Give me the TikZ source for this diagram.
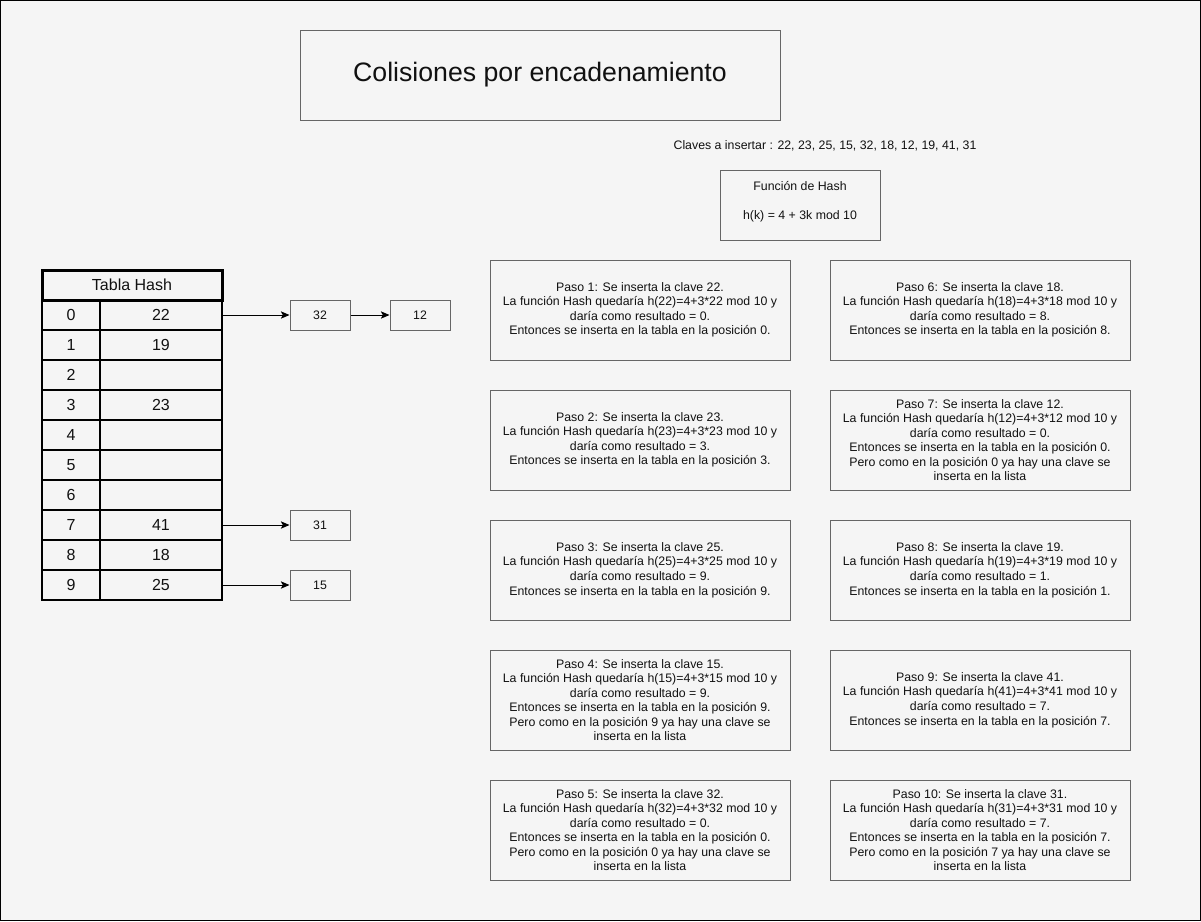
\documentclass[tikz,border=0pt]{standalone}
\usepackage{fontspec}
\setmainfont{Liberation Sans}
\usetikzlibrary{arrows.meta}
\definecolor{bg}{HTML}{F5F5F5}
\definecolor{bordergray}{HTML}{666666}
\definecolor{txt}{HTML}{111111}
\begin{document}
\begin{tikzpicture}[x=0.75pt,y=-0.75pt,
  box/.style={draw=bordergray, line width=0.75pt, fill=bg, inner sep=0pt, align=center, text=txt, font=\fontsize{9.25}{10.9}\selectfont},
  stepbox/.style={box, minimum width=225pt, minimum height=75pt},
  smallbox/.style={box, minimum width=45pt, minimum height=22.5pt},
  idxcell/.style={draw=black, line width=1.1pt, inner sep=0pt, minimum width=43.5pt, minimum height=22.5pt, text=txt, font=\fontsize{12}{14}\selectfont},
  valcell/.style={idxcell, minimum width=91.5pt},
  arr/.style={draw=black, line width=0.75pt, -{Stealth[length=6.5pt, width=5.5pt, inset=1.5pt]}}
]
\useasboundingbox (0,0) rectangle (1201,921);
\draw[black, line width=0.9pt, fill=bg] (0.6,0.6) rectangle (1200.4,920.4);

% title
\node[box, minimum width=360pt, minimum height=67.5pt, font=\fontsize{20}{24}\selectfont] (title) at (540,75) {Colisiones por encadenamiento};

\node[text=txt, inner sep=0pt, font=\fontsize{9.25}{10.9}\selectfont] (claves) at (825,146) {Claves a insertar : 22, 23, 25, 15, 32, 18, 12, 19, 41, 31};

\node[box, minimum width=120pt, minimum height=52.5pt] (hash) at (800,205) {};
\node[text=txt, inner sep=0pt, align=center, font=\fontsize{9.25}{10.9}\selectfont] (hashtxt) at (800,201.5) {Función de Hash\\ \\h(k) = 4 + 3k mod 10};

% table
\node[draw=black, line width=2.25pt, inner sep=0pt, minimum width=135pt, minimum height=22.5pt, text=txt, font=\fontsize{12}{14}\selectfont] (th) at (132,285) {Tabla Hash};
\node[idxcell] (idx0) at (71,315) {0}; \node[valcell] (val0) at (161,315) {22};
\node[idxcell] (idx1) at (71,345) {1}; \node[valcell] (val1) at (161,345) {19};
\node[idxcell] (idx2) at (71,375) {2}; \node[valcell] (val2) at (161,375) {};
\node[idxcell] (idx3) at (71,405) {3}; \node[valcell] (val3) at (161,405) {23};
\node[idxcell] (idx4) at (71,435) {4}; \node[valcell] (val4) at (161,435) {};
\node[idxcell] (idx5) at (71,465) {5}; \node[valcell] (val5) at (161,465) {};
\node[idxcell] (idx6) at (71,495) {6}; \node[valcell] (val6) at (161,495) {};
\node[idxcell] (idx7) at (71,525) {7}; \node[valcell] (val7) at (161,525) {41};
\node[idxcell] (idx8) at (71,555) {8}; \node[valcell] (val8) at (161,555) {18};
\node[idxcell] (idx9) at (71,585) {9}; \node[valcell] (val9) at (161,585) {25};

% chain boxes
\node[smallbox] (b32) at (320,315) {32};
\node[smallbox] (b12) at (420,315) {12};
\node[smallbox] (b31) at (320,525) {31};
\node[smallbox] (b15) at (320,585) {15};

\draw[arr] (val0.east) -- (b32.west);
\draw[arr] (b32.east) -- (b12.west);
\draw[arr] (val7.east) -- (b31.west);
\draw[arr] (val9.east) -- (b15.west);

% steps left
\node[stepbox] (p1) at (640,310) {Paso 1: Se inserta la clave 22.\\La función Hash quedaría h(22)=4+3*22 mod 10 y\\daría como resultado = 0.\\Entonces se inserta en la tabla en la posición 0.};
\node[stepbox] (p2) at (640,440) {Paso 2: Se inserta la clave 23.\\La función Hash quedaría h(23)=4+3*23 mod 10 y\\daría como resultado = 3.\\Entonces se inserta en la tabla en la posición 3.};
\node[stepbox] (p3) at (640,570) {Paso 3: Se inserta la clave 25.\\La función Hash quedaría h(25)=4+3*25 mod 10 y\\daría como resultado = 9.\\Entonces se inserta en la tabla en la posición 9.};
\node[stepbox] (p4) at (640,700) {Paso 4: Se inserta la clave 15.\\La función Hash quedaría h(15)=4+3*15 mod 10 y\\daría como resultado = 9.\\Entonces se inserta en la tabla en la posición 9.\\Pero como en la posición 9 ya hay una clave se\\inserta en la lista};
\node[stepbox] (p5) at (640,830) {Paso 5: Se inserta la clave 32.\\La función Hash quedaría h(32)=4+3*32 mod 10 y\\daría como resultado = 0.\\Entonces se inserta en la tabla en la posición 0.\\Pero como en la posición 0 ya hay una clave se\\inserta en la lista};
% steps right
\node[stepbox] (p6) at (980,310) {Paso 6: Se inserta la clave 18.\\La función Hash quedaría h(18)=4+3*18 mod 10 y\\daría como resultado = 8.\\Entonces se inserta en la tabla en la posición 8.};
\node[stepbox] (p7) at (980,440) {Paso 7: Se inserta la clave 12.\\La función Hash quedaría h(12)=4+3*12 mod 10 y\\daría como resultado = 0.\\Entonces se inserta en la tabla en la posición 0.\\Pero como en la posición 0 ya hay una clave se\\inserta en la lista};
\node[stepbox] (p8) at (980,570) {Paso 8: Se inserta la clave 19.\\La función Hash quedaría h(19)=4+3*19 mod 10 y\\daría como resultado = 1.\\Entonces se inserta en la tabla en la posición 1.};
\node[stepbox] (p9) at (980,700) {Paso 9: Se inserta la clave 41.\\La función Hash quedaría h(41)=4+3*41 mod 10 y\\daría como resultado = 7.\\Entonces se inserta en la tabla en la posición 7.};
\node[stepbox] (p10) at (980,830) {Paso 10: Se inserta la clave 31.\\La función Hash quedaría h(31)=4+3*31 mod 10 y\\daría como resultado = 7.\\Entonces se inserta en la tabla en la posición 7.\\Pero como en la posición 7 ya hay una clave se\\inserta en la lista};
\end{tikzpicture}
\end{document}
